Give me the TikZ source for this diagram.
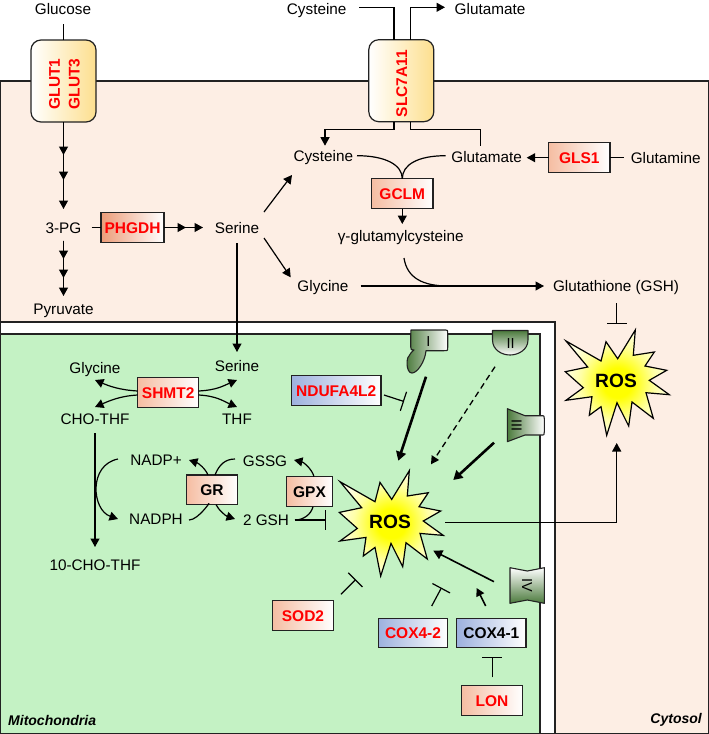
\documentclass[tikz,border=0pt]{standalone}
\usepackage{fontspec}
\setmainfont{Liberation Sans}
\usetikzlibrary{arrows.meta}
\definecolor{cyto}{HTML}{FDEEE4}
\definecolor{mito}{HTML}{C4F2C4}
\definecolor{salm}{HTML}{F5BDA2}
\definecolor{salmdeep}{HTML}{EC9C78}
\definecolor{bluey}{HTML}{9DB1DE}
\definecolor{gold}{HTML}{FDDF8E}
\definecolor{cgreen}{HTML}{4B7A3C}
\definecolor{edge}{HTML}{222222}
\pgfdeclareradialshading{rosglow}{\pgfpointorigin}{color(0bp)=(yellow); color(7bp)=(yellow); color(18bp)=(yellow!35!white); color(25bp)=(yellow!12!white); color(50bp)=(yellow!12!white)}
\tikzset{
  lbl/.style={inner sep=0pt,outer sep=0pt,text height=12.5pt,text depth=1.5pt,font=\fontsize{15.3}{18}\selectfont,text=black},
  boxbase/.style={draw=edge,line width=1.2pt,inner sep=0pt,outer sep=0pt,text height=11pt,text depth=0pt,font=\fontsize{15.5}{18}\selectfont\bfseries,text=red},
  pinkbox/.style={boxbase,left color=salm,middle color=salm!50!white,right color=white},
  deepbox/.style={boxbase,left color=salmdeep,middle color=salmdeep!50!white,right color=white},
  bluebox/.style={boxbase,left color=bluey,middle color=bluey!45!white,right color=white},
  transp/.style={draw=edge,line width=1.2pt,rounded corners=10pt,inner sep=0pt,outer sep=0pt,minimum width=65pt,minimum height=82pt,left color=white,right color=gold},
  vtxt/.style={inner sep=0pt,rotate=90,text height=11pt,text depth=0pt,font=\fontsize{15.5}{18}\selectfont\bfseries,text=red},
  cxt/.style={inner sep=0pt,text height=11pt,text depth=0pt,font=\fontsize{14.5}{18}\selectfont,text=black},
  conn/.style={draw=black,line width=1.2pt},
  arr/.style={conn,-{Triangle[length=8.5pt,width=9pt]}},
  inh/.style={conn,-{Bar[width=20pt,line width=1.2pt]}},
  cplx/.style={draw=edge,line width=1.1pt,line join=round},
  rosburst/.pic={
    \path[draw=black,line width=1.2pt,miter limit=10,shade,shading=rosglow]
    (19.3,-51) -- (17.3,-25.7) -- (38.3,-29) -- (29,-15) -- (50.7,-10.7) -- (33.3,-0.7) -- (53.3,13.7) -- (30,11.7) -- (37.3,37.3) -- (16,21) -- (12.7,45) -- (1,21.7) -- (-9.3,54.3) -- (-15,25.7) -- (-26.7,34.3) -- (-24,15.7) -- (-50,19.3) -- (-32.7,6.7) -- (-50.7,-9.3) -- (-28.3,-14) -- (-50,-40) -- (-15,-20) -- (-10,-39.3) -- (1.7,-22.3) -- cycle;
  }
}
\begin{document}
\begin{tikzpicture}[x=1pt,y=-1pt]
\useasboundingbox (0,0) rectangle (709,734);
% compartments
\draw[draw=edge,line width=1.1pt,fill=cyto] (0.5,81) rectangle (708.5,733.5);
\draw[draw=edge,line width=1.1pt,fill=white] (0.5,322) rectangle (555,733.5);
\draw[draw=edge,line width=1.1pt,fill=mito] (0.5,334) rectangle (540,733.5);

% transporters
\node[transp] (glut) at (63.5,81) {};
\node[vtxt] at (54.3,84) {GLUT1};
\node[vtxt] at (74,84) {GLUT3};
\node[transp] (slc) at (401.3,80.7) {};
\node[vtxt] at (401.7,83.7) {SLC7A11};

% ETC complexes
\shade[cplx,left color=cgreen,right color=white] (410.7,335) -- (411,330) .. controls (411,330) .. (415,330) -- (444,330) .. controls (447.7,330) .. (447.7,333.5) -- (447.7,347.5) .. controls (447.7,350.7) .. (444,350.7) -- (426,350.7) .. controls (425,362) and (417,373) .. (412,373) .. controls (406,373) and (406,358) .. (409,356) .. controls (411,352) and (414,350) .. (414,350) .. controls (411,350) .. (410.7,347) -- cycle;
\shade[cplx,top color=cgreen,bottom color=white] (492.5,330.5) -- (528,330.5) -- (528,340) .. controls (528,350) and (518,355) .. (510,355) .. controls (502,355) and (492.5,350) .. (492.5,340) -- cycle;
\shade[cplx,left color=cgreen,right color=white] (507.3,408.7) -- (525,415.7) -- (541,415.7) .. controls (544.3,415.7) .. (544.3,418.5) -- (544.3,432) .. controls (544.3,435) .. (541,435) -- (525,435) -- (507.3,441.7) -- cycle;
\shade[cplx,top color=white,bottom color=cgreen] (510,567.7) -- (527.3,571) -- (544.3,567.7) -- (544.3,603.3) -- (527.3,600) -- (510,603.3) -- cycle;
\node[cxt] (cI) at (428.3,340.7) {I};
\node[cxt] (cII) at (510.7,342.7) {II};
\node[cxt,rotate=90] (cIII) at (516,425.3) {III};
\node[cxt,rotate=-90] (cIV) at (527.7,585.7) {IV};

% ROS bursts
\pic at (390,521.7) {rosburst};
\pic at (616,381) {rosburst};
\node[inner sep=0pt,font=\fontsize{19.2}{22}\selectfont\bfseries] (ros1) at (390,521.7) {ROS};
\node[inner sep=0pt,font=\fontsize{19.2}{22}\selectfont\bfseries] (ros2) at (616,381) {ROS};

% text labels
\node[lbl] (glucose) at (63,9) {Glucose};
\node[lbl] (cys1) at (316.7,9) {Cysteine};
\node[lbl] (glu1) at (490,9) {Glutamate};
\node[lbl] (cys2) at (323.3,156) {Cysteine};
\node[lbl] (glu2) at (486.7,157) {Glutamate};
\node[lbl] (gln) at (665.7,158) {Glutamine};
\node[lbl] (gamma) at (400.7,236) {γ-glutamylcysteine};
\node[lbl] (gly1) at (323,286) {Glycine};
\node[lbl] (gsh) at (616,286) {Glutathione (GSH)};
\node[lbl] (pg) at (63.5,227.5) {3-PG};
\node[lbl] (s1) at (237,227.5) {Serine};
\node[lbl] (pyr) at (63.5,309) {Pyruvate};
\node[lbl] (s2) at (237,366) {Serine};
\node[lbl] (gly2) at (95,367.5) {Glycine};
\node[lbl] (cho) at (95,419) {CHO-THF};
\node[lbl] (thf) at (237,419) {THF};
\node[lbl] (nadpp) at (156,460) {NADP+};
\node[lbl] (nadph) at (156,519) {NADPH};
\node[lbl] (gssg) at (265,461) {GSSG};
\node[lbl] (gsh2) at (266,520) {2 GSH};
\node[lbl] (ten) at (95,565) {10-CHO-THF};
\node[anchor=west,inner sep=0pt,font=\fontsize{14}{16}\selectfont\bfseries\itshape] (mitolbl) at (8,720) {Mitochondria};
\node[anchor=east,inner sep=0pt,font=\fontsize{14}{16}\selectfont\bfseries\itshape] (cytolbl) at (702,720) {Cytosol};

% enzyme boxes
\node[deepbox,minimum width=63pt,minimum height=30pt] (phgdh) at (132.5,227.5) {PHGDH};
\node[pinkbox,minimum width=61.3pt,minimum height=30pt] (gclm) at (402.3,193.7) {GCLM};
\node[pinkbox,minimum width=61.3pt,minimum height=30pt] (gls) at (579.3,157.7) {GLS1};
\node[pinkbox,minimum width=61pt,minimum height=30.4pt] (shm) at (168.2,392.5) {SHMT2};
\node[bluebox,minimum width=89.7pt,minimum height=29.6pt] (nd) at (336.2,390.5) {NDUFA4L2};
\node[pinkbox,text=black,minimum width=50.6pt,minimum height=29.7pt] (gr) at (212,489.8) {GR};
\node[pinkbox,text=black,minimum width=46.4pt,minimum height=30pt] (gpx) at (309.5,491.7) {GPX};
\node[pinkbox,minimum width=61.4pt,minimum height=29.6pt] (sod) at (303,615.5) {SOD2};
\node[bluebox,minimum width=69.4pt,minimum height=29.7pt] (cox42) at (413,633) {COX4-2};
\node[bluebox,text=black,minimum width=69.3pt,minimum height=29.7pt] (cox41) at (491.3,633) {COX4-1};
\node[pinkbox,minimum width=61.4pt,minimum height=30pt] (lon) at (492,700.7) {LON};

% glycolysis
\draw[conn] ([shift={(0.5,15)}]glucose.center) -- (glut.north);
\draw[arr] (glut.south) -- ([shift={(0,-72.5)}]pg.center);
\draw[arr] (glut.south) -- ([shift={(0,-47.5)}]pg.center);
\draw[arr] (glut.south) -- ([shift={(0,-18.5)}]pg.center);
\draw[arr] ([shift={(0,13)}]pg.center) -- ([shift={(0,-50)}]pyr.center);
\draw[arr] ([shift={(0,13)}]pg.center) -- ([shift={(0,-31)}]pyr.center);
\draw[arr] ([shift={(0,13)}]pg.center) -- ([shift={(0,-13)}]pyr.center);
\draw[conn] ([shift={(28,0)}]pg.center) -- (phgdh.west);
\draw[arr] (phgdh.east) -- ([shift={(-51,0)}]s1.center);
\draw[arr] (phgdh.east) -- ([shift={(-34,0)}]s1.center);
\draw[arr] ([shift={(0,15.5)}]s1.center) -- ([shift={(0,-14)}]s2.center);
\draw[arr] ([shift={(27,-15.5)}]s1.center) -- ([shift={(-31.3,19)}]cys2.center);
\draw[arr] ([shift={(27,10.5)}]s1.center) -- ([shift={(-32.3,-8.7)}]gly1.center);

% xCT
\draw[conn] ([shift={(42.6,-1.3)}]cys1.center) -| ([shift={(-7.3,0)}]slc.north);
\draw[arr] ([shift={(9.4,0)}]slc.north) |- ([shift={(-45,-1.7)}]glu1.center);
\draw[arr] ([shift={(-7.3,0)}]slc.south) -- ++(0,8) -| ([shift={(1.7,-10.3)}]cys2.center);
\draw[conn] ([shift={(9.4,0)}]slc.south) -- ++(0,8) -| ([shift={(-6.4,-11.3)}]glu2.center);

% GSH synthesis
\draw[conn] ([shift={(33.7,-0.3)}]cys2.center) .. controls +(28,0) and +(0,-14) .. (gclm.north);
\draw[conn] ([shift={(-41,-1.3)}]glu2.center) .. controls +(-28,0) and +(0,-14) .. (gclm.north);
\draw[arr] (gls.west) -- ([shift={(40,0.7)}]glu2.center);
\draw[conn] (gls.east) -- ([shift={(-41.7,-0.3)}]gln.center);
\draw[arr] (gclm.south) -- ([shift={(1.6,-12)}]gamma.center);
\draw[conn] ([shift={(3.3,22)}]gamma.center) .. controls +(3,20) and +(-25,0) .. ([shift={(-168,0)}]gsh.center);
\draw[arr] ([shift={(37.7,0)}]gly1.center) -- ([shift={(-72,0)}]gsh.center);
\draw[inh] ([shift={(0.7,17)}]gsh.center) -- ([shift={(0.7,38)}]gsh.center);

% SHMT2 and folate
\draw[arr] ([shift={(0,-1.5)}]shm.west) .. controls +(-18,-1) and +(14,6) .. ([shift={(0,12.5)}]gly2.center);
\draw[arr] ([shift={(0,2.5)}]shm.west) .. controls +(-18,1) and +(14,-6) .. ([shift={(0,-12)}]cho.center);
\draw[arr] ([shift={(0,-1.5)}]shm.east) .. controls +(18,-1) and +(-14,6) .. ([shift={(0,14)}]s2.center);
\draw[arr] ([shift={(0,2.5)}]shm.east) .. controls +(18,1) and +(-14,-6) .. ([shift={(0,-12)}]thf.center);
\draw[arr] ([shift={(0,14)}]cho.center) -- ([shift={(0,-18)}]ten.center);
\draw[arr] ([shift={(-38,-1)}]nadpp.center) .. controls +(-30,6) and +(-26,-9) .. ([shift={(-38,0)}]nadph.center);

% GR / GPX
\draw[arr] ([shift={(-4,0)}]gr.north) .. controls +(-3,-7) and +(9,3) .. ([shift={(33,0)}]nadpp.center);
\draw[conn] ([shift={(3,0)}]gr.north) .. controls +(4,-10) and +(-10,0) .. ([shift={(-30,-2)}]gssg.center);
\draw[conn] ([shift={(33,1)}]nadph.center) .. controls +(10,0) and +(5,-7) .. ([shift={(-4,0)}]gr.south);
\draw[arr] ([shift={(4,0)}]gr.south) .. controls +(3,6) and +(-9,-3) .. ([shift={(-31,-1)}]gsh2.center);
\draw[arr] ([shift={(4.5,0)}]gpx.north) .. controls +(-2,-8) and +(9,2) .. ([shift={(29,-1)}]gssg.center);
\draw[conn] ([shift={(3.5,0)}]gpx.south) .. controls +(-2,8) and +(8,0) .. ([shift={(29,0)}]gsh2.center);
\draw[inh] ([shift={(29,0)}]gsh2.center) -- ([shift={(60,0)}]gsh2.center);

% ROS inputs
\draw[inh] ([shift={(47.8,4.5)}]nd.center) -- ([shift={(67.8,11)}]nd.center);
\draw[conn,line width=2.6pt,-{Triangle[length=9pt,width=10pt]}] ([shift={(-2.3,36)}]cI.center) -- ([shift={(8.3,-61)}]ros1.center);
\draw[conn,dashed,line width=1.3pt,dash pattern=on 6pt off 4pt,-{Triangle[length=8pt,width=8.5pt]}] ([shift={(-15.7,24)}]cII.center) -- ([shift={(41,-57.4)}]ros1.center);
\draw[conn,line width=2.6pt,-{Triangle[length=9pt,width=10pt]}] ([shift={(-22,17.4)}]cIII.center) -- ([shift={(63.3,-41.7)}]ros1.center);
\draw[arr] ([shift={(55,0.6)}]ros1.center) -| ([shift={(0.7,62)}]ros2.center);
\draw[conn,line width=1.6pt,-{Triangle[length=9pt,width=9.5pt]}] ([shift={(-33.7,-4)}]cIV.center) -- ([shift={(43.3,29)}]ros1.center);
\draw[conn,line width=1.6pt,-{Triangle[length=8pt,width=8.5pt]}] ([shift={(-5.6,-27)}]cox41.center) -- ([shift={(-14.6,-45)}]cox41.center);
\draw[inh] ([shift={(18.7,-27)}]cox42.center) -- ([shift={(28.5,-45.3)}]cox42.center);
\draw[inh] ([shift={(38,-21.2)}]sod.center) -- ([shift={(52.8,-36)}]sod.center);
\draw[inh] ([shift={(0.3,-23.4)}]lon.center) -- ([shift={(0.3,-44)}]lon.center);
\end{tikzpicture}
\end{document}
